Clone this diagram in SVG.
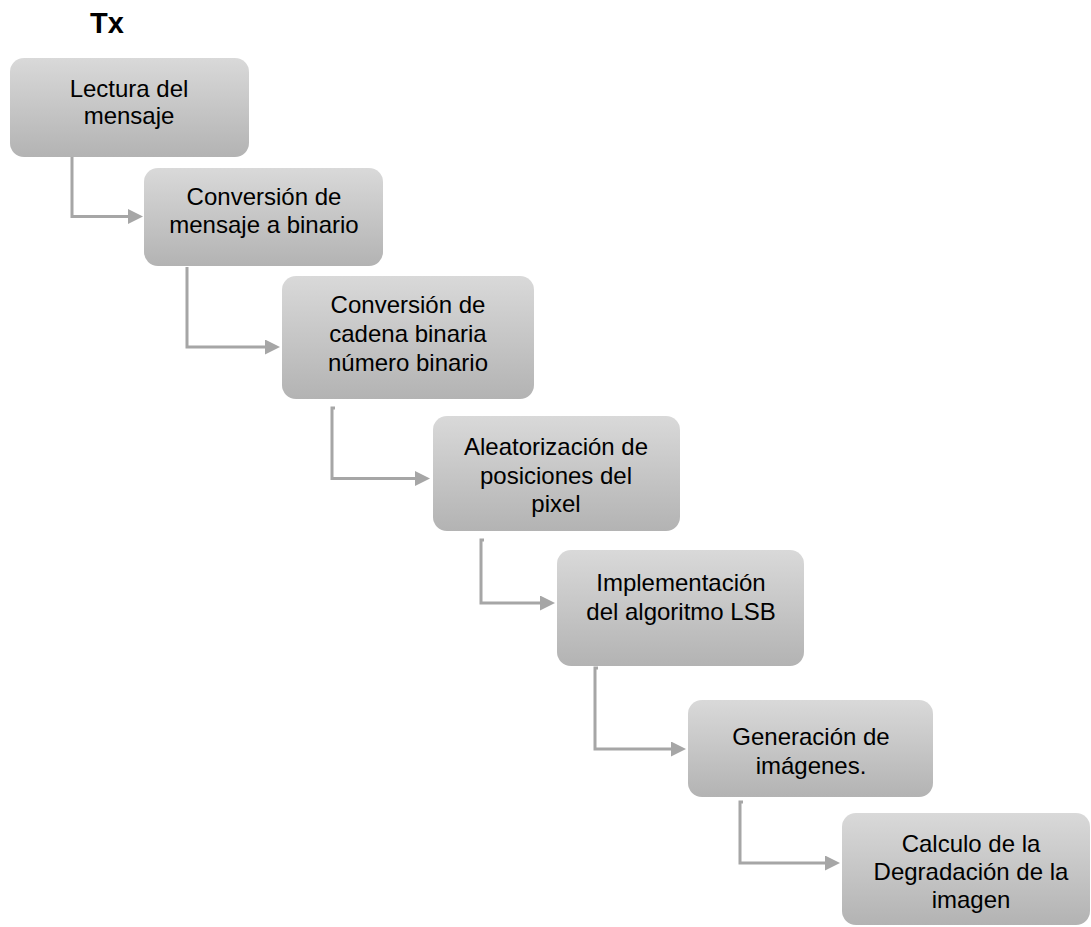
<svg xmlns="http://www.w3.org/2000/svg" width="1091" height="927" viewBox="0 0 1091 927">
<defs>
<linearGradient id="g" x1="0" y1="0" x2="0" y2="1">
<stop offset="0" stop-color="#d9d9d9"/>
<stop offset="1" stop-color="#b3b3b3"/>
</linearGradient>
<marker id="arr" viewBox="0 0 15 15" refX="7" refY="7.5" markerWidth="15" markerHeight="15" markerUnits="userSpaceOnUse" orient="auto">
<path d="M0,0 L15,7.5 L0,15 z" fill="#a6a6a6"/>
</marker>
</defs>
<style>
.box{fill:url(#g);}
.t{font-family:"Liberation Sans",Arial,sans-serif;font-size:24px;fill:#000;text-anchor:middle;}
.c{fill:none;stroke:#a6a6a6;stroke-width:3;marker-end:url(#arr);}
</style>
<rect width="1091" height="927" fill="#fff"/>
<text x="107" y="33" font-family="Liberation Sans, Arial, sans-serif" font-size="29" font-weight="bold" text-anchor="middle">Tx</text>
<g id="connectors">
<path class="c" d="M72 157 V216.5 H135"/>
<path class="c" d="M187 267 V347 H272"/>
<path class="c" d="M335 408 H332 V478.5 H422"/>
<path class="c" d="M484 540 H481 V603 H547"/>
<path class="c" d="M598 668 H595 V749 H678"/>
<path class="c" d="M743 802 H740 V863 H832"/>
</g>
<g id="n1">
<rect class="box" x="10" y="58" width="239" height="99" rx="14"/>
<text class="t" x="129" y="97">Lectura del</text>
<text class="t" x="129" y="124">mensaje</text>
</g>
<g id="n2">
<rect class="box" x="144" y="168" width="239" height="98" rx="14"/>
<text class="t" x="264" y="205">Conversión de</text>
<text class="t" x="264" y="233">mensaje a binario</text>
</g>
<g id="n3">
<rect class="box" x="282" y="276" width="252" height="123" rx="14"/>
<text class="t" x="408" y="313">Conversión de</text>
<text class="t" x="408" y="342">cadena binaria</text>
<text class="t" x="408" y="371">número binario</text>
</g>
<g id="n4">
<rect class="box" x="433" y="416" width="247" height="115" rx="14"/>
<text class="t" x="556" y="455">Aleatorización de</text>
<text class="t" x="556" y="484">posiciones del</text>
<text class="t" x="556" y="512">pixel</text>
</g>
<g id="n5">
<rect class="box" x="557" y="550" width="247" height="116" rx="14"/>
<text class="t" x="681" y="591">Implementación</text>
<text class="t" x="681" y="620">del algoritmo LSB</text>
</g>
<g id="n6">
<rect class="box" x="688" y="700" width="245" height="97" rx="14"/>
<text class="t" x="811" y="745">Generación de</text>
<text class="t" x="811" y="774">imágenes.</text>
</g>
<g id="n7">
<rect class="box" x="842" y="813" width="248" height="112" rx="14"/>
<text class="t" x="971" y="852">Calculo de la</text>
<text class="t" x="971" y="880">Degradación de la</text>
<text class="t" x="971" y="908">imagen</text>
</g>
</svg>
